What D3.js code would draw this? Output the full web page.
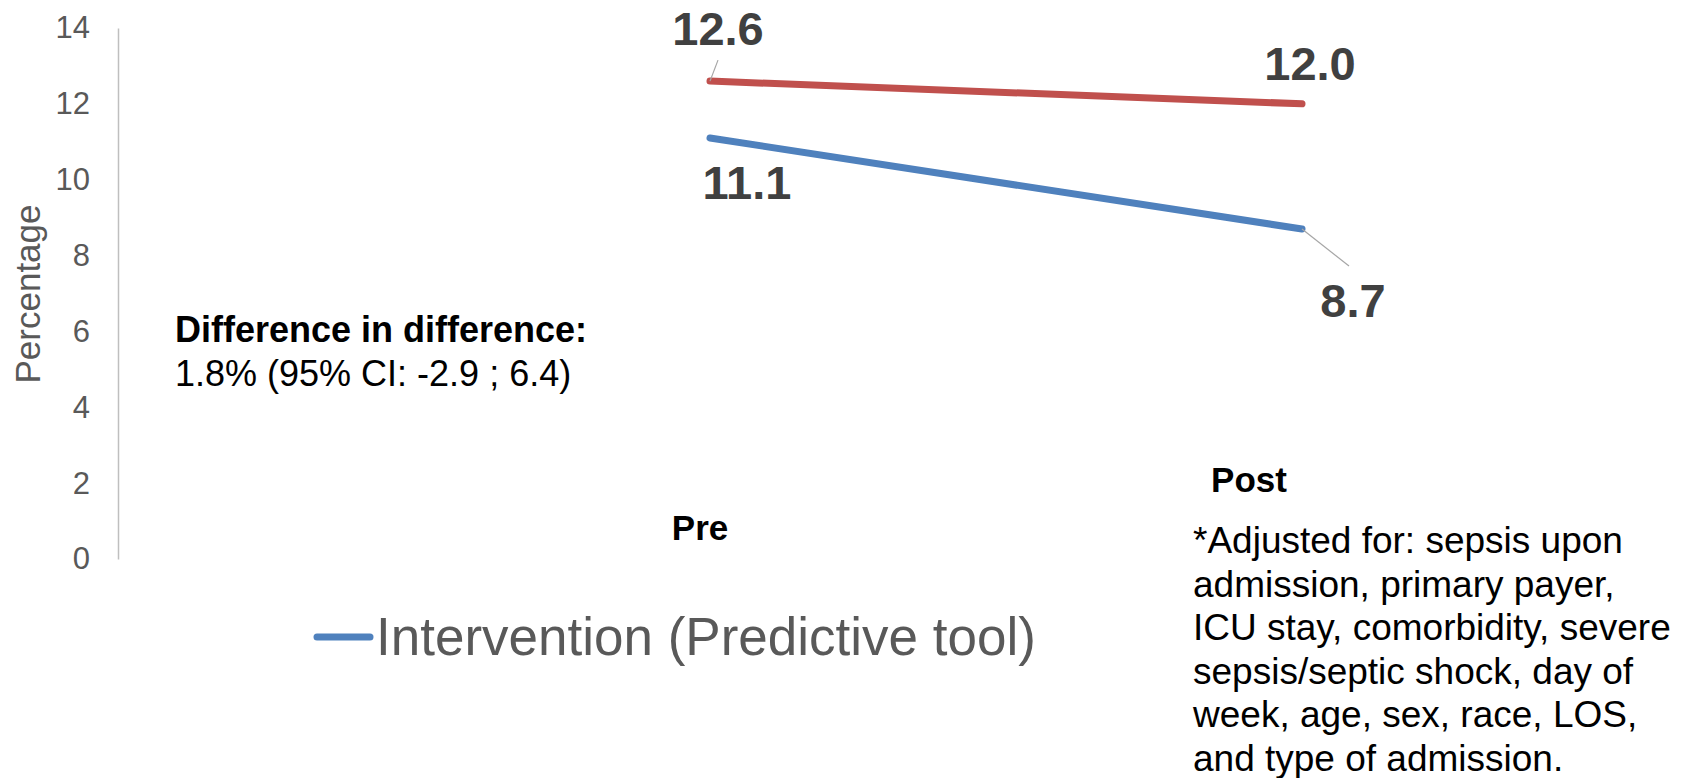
<!DOCTYPE html>
<html>
<head>
<meta charset="utf-8">
<script src="https://cdn.jsdelivr.net/npm/d3@7"></script>
<style>
  html, body { margin: 0; padding: 0; background: #ffffff; }
  svg { display: block; font-family: "Liberation Sans", Arial, sans-serif; }
</style>
</head>
<body>
<svg id="chart" width="1686" height="778"></svg>
<script>
// Readmission percentage before and after the predictive tool
const categories = ["Pre", "Post"];
const interventionValues = [11.1, 8.7];
const controlValues = [12.6, 12.0];
const yTicks = [0, 2, 4, 6, 8, 10, 12, 14];
const yAxisTitle = "Percentage";
const legendLabels = ["Intervention (Predictive tool)"];
const didTitle = "Difference in difference:";
const didValue = "1.8% (95% CI: -2.9 ; 6.4)";
const footnoteLines = [
  "*Adjusted for: sepsis upon",
  "admission, primary payer,",
  "ICU stay, comorbidity, severe",
  "sepsis/septic shock, day of",
  "week, age, sex, race, LOS,",
  "and type of admission."
];

const svg = d3.select("#chart");

const y = d3.scaleLinear().domain([0, 14]).range([559, 28]);
const x = d3.scalePoint().domain(categories).range([710, 1302]);
const axisX = 118;

// Value axis: gray line with labels, no tick marks
const yAxis = svg.append("g")
  .attr("transform", `translate(${axisX},0)`)
  .call(d3.axisLeft(y).tickValues(yTicks).tickSize(0).tickSizeOuter(0).tickPadding(28));
yAxis.select(".domain").attr("stroke", "#bfbfbf").attr("stroke-width", 1.5);
yAxis.selectAll(".tick text")
  .attr("fill", "#595959")
  .style("font-size", "31px")
  .style("font-family", "'Liberation Sans', Arial, sans-serif");

svg.append("text")
  .attr("transform", "translate(40,294) rotate(-90)")
  .attr("text-anchor", "middle")
  .attr("fill", "#595959")
  .style("font-size", "35px")
  .text(yAxisTitle);

// Series lines
const series = [
  { name: "Control", values: controlValues, color: "#C0504D" },
  { name: legendLabels[0], values: interventionValues, color: "#4F81BD" }
];
const line = d3.line()
  .x((d, i) => x(categories[i]))
  .y(d => y(d));

svg.selectAll("path.series")
  .data(series)
  .join("path")
  .attr("class", "series")
  .attr("d", d => line(d.values))
  .attr("fill", "none")
  .attr("stroke", d => d.color)
  .attr("stroke-width", 7)
  .attr("stroke-linecap", "round");

// Data labels, placed relative to each point
const labelOffsets = {
  Control: [[8, -36], [8, -24]],
  Intervention: [[37, 61], [51, 88]]
};
const labelData = [];
series.forEach(s => {
  const key = s.name === "Control" ? "Control" : "Intervention";
  s.values.forEach((v, i) => {
    labelData.push({ v, cx: x(categories[i]), cy: y(v), off: labelOffsets[key][i] });
  });
});

// Leader lines for the labels that sit away from their points
const leaders = [
  { v: controlValues[0], i: 0, end: [8, -21] },
  { v: interventionValues[1], i: 1, end: [47, 37] }
];
svg.selectAll("line.leader")
  .data(leaders)
  .join("line")
  .attr("class", "leader")
  .attr("x1", d => x(categories[d.i]))
  .attr("y1", d => y(d.v))
  .attr("x2", d => x(categories[d.i]) + d.end[0])
  .attr("y2", d => y(d.v) + d.end[1])
  .attr("stroke", "#a6a6a6")
  .attr("stroke-width", 1.2);

svg.selectAll("text.dlabel")
  .data(labelData)
  .join("text")
  .attr("class", "dlabel")
  .attr("x", d => d.cx + d.off[0])
  .attr("y", d => d.cy + d.off[1])
  .attr("text-anchor", "middle")
  .attr("fill", "#404040")
  .style("font-size", "47px")
  .style("font-weight", "bold")
  .text(d => d.v.toFixed(1));

// Category labels
const catPos = { Pre: [-10, 540], Post: [-53, 492] };
svg.selectAll("text.cat")
  .data(categories)
  .join("text")
  .attr("class", "cat")
  .attr("x", d => x(d) + catPos[d][0])
  .attr("y", d => catPos[d][1])
  .attr("text-anchor", "middle")
  .attr("fill", "#000000")
  .style("font-size", "35px")
  .style("font-weight", "bold")
  .text(d => d);

// Difference-in-difference annotation
svg.append("text")
  .attr("x", 175).attr("y", 342)
  .attr("fill", "#000000")
  .style("font-size", "36px")
  .style("font-weight", "bold")
  .text(didTitle);
svg.append("text")
  .attr("x", 175).attr("y", 386)
  .attr("fill", "#000000")
  .style("font-size", "36px")
  .text(didValue);

// Legend
const legend = svg.append("g").attr("transform", "translate(317,637)");
legend.append("line")
  .attr("x1", 0).attr("x2", 53)
  .attr("y1", 0).attr("y2", 0)
  .attr("stroke", "#4F81BD")
  .attr("stroke-width", 7)
  .attr("stroke-linecap", "round");
legend.append("text")
  .attr("x", 59).attr("y", 18)
  .attr("fill", "#595959")
  .style("font-size", "53px")
  .text(legendLabels[0]);

// Adjustment footnote
svg.append("text")
  .attr("x", 1193).attr("y", 553)
  .attr("fill", "#000000")
  .style("font-size", "37px")
  .selectAll("tspan")
  .data(footnoteLines)
  .join("tspan")
  .attr("x", 1193)
  .attr("dy", (d, i) => i === 0 ? 0 : 43.6)
  .text(d => d);
</script>
</body>
</html>
